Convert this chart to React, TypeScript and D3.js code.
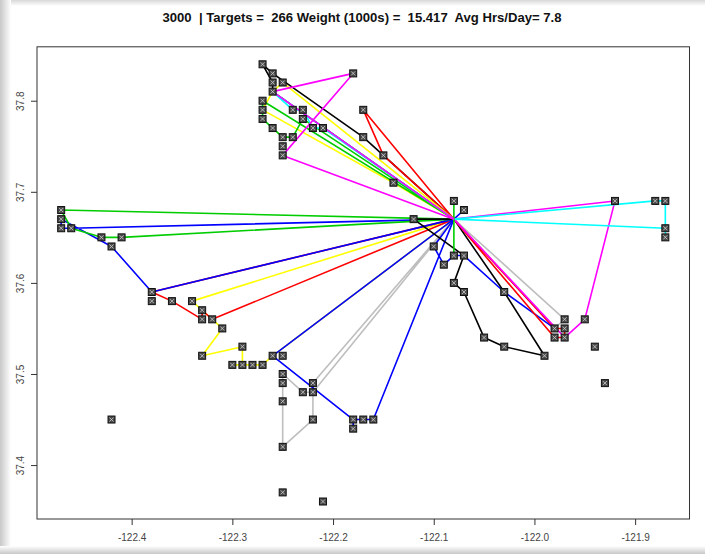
import React, { useEffect, useRef } from 'react';
import * as d3 from 'd3';

// chart size (whole window) and plot box
const W = 705,
  H = 554;
const box = { left: 37, right: 689.5, top: 46.8, bottom: 519 };

const title = '3000  | Targets =  266 Weight (1000s) =  15.417  Avg Hrs/Day= 7.8';
const xTicks = [-122.4, -122.3, -122.2, -122.1, -122.0, -121.9];
const yTicks = [37.4, 37.5, 37.6, 37.7, 37.8];
const lonRange = [-122.47, -121.87];
const latRange = [37.36, 37.84];

// every route leaves from the depot
const depot: [number, number] = [-122.08, 37.67];

// R default palette
const routeColors = [
  '#BEBEBE', // gray south loop
  '#BEBEBE', // gray east
  '#FFFF00', // yellow south-west
  '#FF0000', // red south-west
  '#0000FF', // blue west
  '#00CD00', // green west
  '#0000FF', // blue south
  '#0000FF', // blue center
  '#000000', // black south-east
  '#FF0000', // red east
  '#FF00FF', // magenta east
  '#00FFFF', // cyan east
  '#00CD00', // green center
  '#000000', // black north
  '#FF0000', // red north
  '#FFFF00', // yellow north
  '#00CD00', // green north
  '#00FFFF', // cyan north
  '#FF00FF', // magenta north
];

const routeStops: [number, number][][] = [
  [depot, [-122.22, 37.49], [-122.22, 37.45], [-122.25, 37.42], [-122.25, 37.47], [-122.25, 37.49], [-122.25, 37.5], [-122.23, 37.48], [-122.22, 37.48], depot],
  [depot, [-121.97, 37.56], [-121.98, 37.55], depot],
  [depot, [-122.34, 37.58], [-122.33, 37.57], [-122.31, 37.55], [-122.33, 37.52], [-122.29, 37.53], [-122.29, 37.51], [-122.3, 37.51], [-122.27, 37.51], [-122.26, 37.52], depot],
  [depot, [-122.38, 37.59], [-122.36, 37.58], [-122.33, 37.56], [-122.33, 37.57], [-122.32, 37.56], depot],
  [depot, [-122.46, 37.66], [-122.47, 37.66], [-122.47, 37.67], [-122.42, 37.64], [-122.38, 37.59], depot],
  [depot, [-122.47, 37.68], [-122.46, 37.66], [-122.43, 37.65], [-122.41, 37.65], depot],
  [depot, [-122.26, 37.52], [-122.18, 37.45], [-122.18, 37.44], [-122.18, 37.45], [-122.17, 37.45], [-122.16, 37.45], depot],
  [depot, [-122.07, 37.68], depot, [-122.1, 37.64], [-122.09, 37.62], [-122.08, 37.63], [-122.07, 37.63], [-122.03, 37.59], [-121.98, 37.55]],
  [depot, [-122.12, 37.67], [-122.07, 37.63], [-122.08, 37.6], [-122.07, 37.59], [-122.05, 37.54], [-122.03, 37.53], [-121.99, 37.52], [-122.03, 37.59], depot],
  [depot, [-121.98, 37.55], [-121.97, 37.55], [-121.97, 37.54], [-121.98, 37.54], depot],
  [depot, [-121.92, 37.69], [-121.95, 37.56], [-121.97, 37.54], depot],
  [depot, [-121.88, 37.69], [-121.87, 37.69], [-121.87, 37.65], [-121.87, 37.66], depot],
  [depot, [-122.08, 37.69], [-122.08, 37.63], depot],
  [depot, [-122.15, 37.74], [-122.17, 37.76], [-122.26, 37.83], [-122.27, 37.84], [-122.26, 37.82], [-122.26, 37.81], depot],
  [depot, [-122.15, 37.74], [-122.17, 37.79], depot],
  [depot, [-122.25, 37.82], [-122.26, 37.81], [-122.27, 37.79], [-122.14, 37.71], depot],
  [depot, [-122.27, 37.8], [-122.27, 37.79], [-122.27, 37.78], [-122.26, 37.77], [-122.25, 37.76], [-122.24, 37.76], [-122.23, 37.78], depot],
  [depot, [-122.26, 37.81], [-122.24, 37.79], [-122.23, 37.79], [-122.22, 37.77], [-122.21, 37.77], depot],
  [depot, [-122.26, 37.81], [-122.18, 37.83], [-122.25, 37.74], depot],
];

// targets not on a drawn route
const looseStops: [number, number][] = [
  [-122.42, 37.45],
  [-122.25, 37.37],
  [-122.21, 37.36],
  [-121.93, 37.49],
  [-121.94, 37.53],
  [-122.38, 37.58],
  [-122.28, 37.51],
  [-122.25, 37.52],
  [-122.25, 37.75],
  [-122.25, 37.82],
];

function RouteMap() {
  const svgRef = useRef<SVGSVGElement>(null);
  useEffect(() => {
    const svg = d3.select(svgRef.current);
    svg.selectAll('*').remove();

    // R style 4% padding around the data range
    const padX = (lonRange[1] - lonRange[0]) * 0.04;
    const padY = (latRange[1] - latRange[0]) * 0.04;
    const x = d3
      .scaleLinear()
      .domain([lonRange[0] - padX, lonRange[1] + padX])
      .range([box.left, box.right]);
    const y = d3
      .scaleLinear()
      .domain([latRange[0] - padY, latRange[1] + padY])
      .range([box.bottom, box.top]);

    // screenshot shadow edges
    const defs = svg.append('defs');
    const gl = defs.append('linearGradient').attr('id', 'shL').attr('x1', 0).attr('x2', 1).attr('y1', 0).attr('y2', 0);
    gl.append('stop').attr('offset', 0).attr('stop-color', '#c8c8c8');
    gl.append('stop').attr('offset', 1).attr('stop-color', '#fff');
    const gb = defs.append('linearGradient').attr('id', 'shB').attr('x1', 0).attr('x2', 0).attr('y1', 0).attr('y2', 1);
    gb.append('stop').attr('offset', 0).attr('stop-color', '#fff');
    gb.append('stop').attr('offset', 1).attr('stop-color', '#c8c8c8');
    const gt = defs.append('linearGradient').attr('id', 'shT').attr('x1', 0).attr('x2', 0).attr('y1', 0).attr('y2', 1);
    gt.append('stop').attr('offset', 0).attr('stop-color', '#d8d8d8');
    gt.append('stop').attr('offset', 1).attr('stop-color', '#fff');

    svg.append('rect').attr('width', W).attr('height', H).attr('fill', '#fff');
    svg.append('rect').attr('x', 0).attr('y', 0).attr('width', W).attr('height', 6).attr('fill', 'url(#shT)');
    svg.append('rect').attr('x', 0).attr('y', 0).attr('width', 11).attr('height', H).attr('fill', 'url(#shL)');
    svg.append('rect').attr('x', 0).attr('y', H - 8).attr('width', W).attr('height', 8).attr('fill', 'url(#shB)');

    // title (keep the double spaces)
    svg
      .append('text')
      .attr('x', 362)
      .attr('y', 22)
      .attr('text-anchor', 'middle')
      .attr('textLength', 399)
      .attr('lengthAdjust', 'spacingAndGlyphs')
      .style('white-space', 'pre')
      .style('font-family', 'Liberation Sans, Arial, sans-serif')
      .style('font-size', '12px')
      .style('font-weight', 'bold')
      .style('fill', '#111')
      .text(title);

    // routes
    const line = d3
      .line<[number, number]>()
      .x(d => x(d[0]))
      .y(d => y(d[1]));
    svg
      .append('g')
      .selectAll('path')
      .data(routeStops)
      .enter()
      .append('path')
      .attr('d', d => line(d))
      .attr('fill', 'none')
      .attr('stroke', (d, i) => routeColors[i])
      .attr('stroke-width', 1.6)
      .attr('stroke-linejoin', 'round');

    // targets
    const seen = new Set<string>();
    const pts: [number, number][] = [];
    routeStops
      .flat()
      .concat(looseStops)
      .forEach(p => {
        const k = p[0] + ',' + p[1];
        if (p === depot || seen.has(k)) return;
        seen.add(k);
        pts.push(p);
      });
    const marks = svg
      .append('g')
      .selectAll('g')
      .data(pts)
      .enter()
      .append('g')
      .attr('transform', d => 'translate(' + x(d[0]) + ',' + y(d[1]) + ')');
    marks
      .append('rect')
      .attr('x', -3.5)
      .attr('y', -3.5)
      .attr('width', 7)
      .attr('height', 7)
      .attr('fill', '#4a4a4a')
      .attr('stroke', '#111')
      .attr('stroke-width', 1);
    marks
      .append('path')
      .attr('d', 'M-2,-2L2,2M2,-2L-2,2')
      .attr('stroke', '#d0d0d0')
      .attr('stroke-width', 0.8);

    // frame
    svg
      .append('rect')
      .attr('x', box.left)
      .attr('y', box.top)
      .attr('width', box.right - box.left)
      .attr('height', box.bottom - box.top)
      .attr('fill', 'none')
      .attr('stroke', '#333')
      .attr('stroke-width', 1);

    // x axis
    const xa = svg
      .append('g')
      .attr('transform', 'translate(0,' + box.bottom + ')')
      .call(
        d3
          .axisBottom(x)
          .tickValues(xTicks)
          .tickSize(6)
          .tickPadding(9)
          .tickFormat(d => (+d).toFixed(1))
      );
    xa.select('.domain').remove();
    xa.selectAll('line').attr('stroke', '#333');
    xa.selectAll('text')
      .style('font-family', 'Liberation Sans, Arial, sans-serif')
      .style('font-size', '10px')
      .attr('fill', '#444');

    // y axis, labels turned like R
    const ya = svg
      .append('g')
      .attr('transform', 'translate(' + box.left + ',0)')
      .call(
        d3
          .axisLeft(y)
          .tickValues(yTicks)
          .tickSize(6)
          .tickFormat(d => (+d).toFixed(1))
      );
    ya.select('.domain').remove();
    ya.selectAll('line').attr('stroke', '#333');
    ya.selectAll('text')
      .attr('x', null)
      .attr('dy', null)
      .attr('transform', 'translate(-13,0) rotate(-90)')
      .attr('text-anchor', 'middle')
      .style('font-family', 'Liberation Sans, Arial, sans-serif')
      .style('font-size', '10px')
      .attr('fill', '#444');
  }, []);

  return <svg ref={svgRef} width={W} height={H} />;
}

export default function App() {
  return (
    <div style={{ position: 'absolute', left: 0, top: 0 }}>
      <RouteMap />
    </div>
  );
}
